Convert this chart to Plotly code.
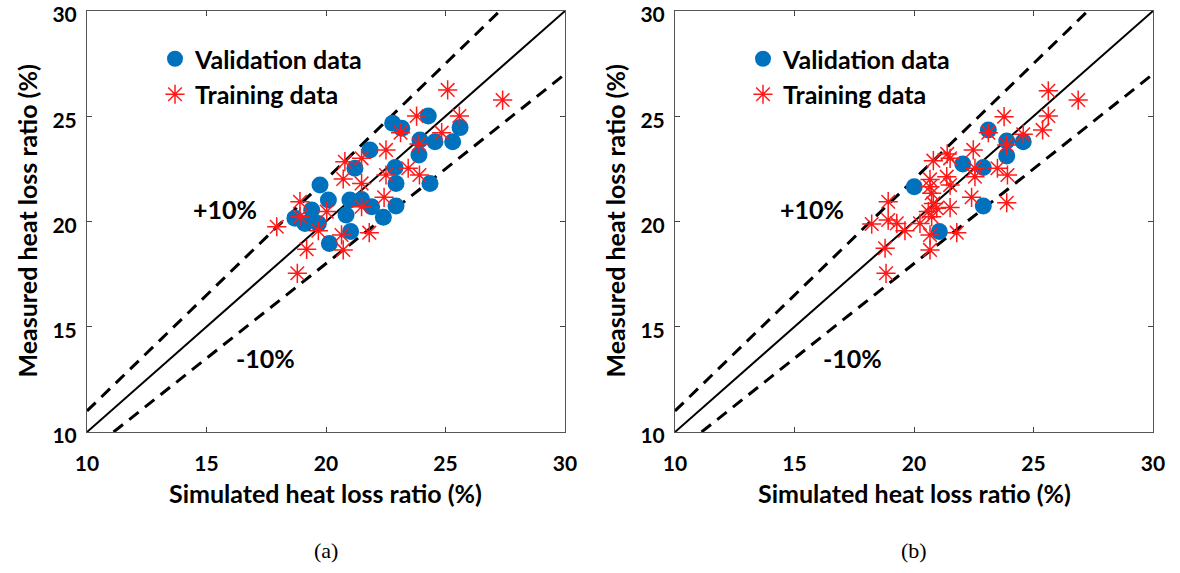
import plotly.graph_objects as go

# Panel (a): simulated vs measured heat loss ratio (%)
a_val_sim = [24.28, 22.79, 23.17, 25.61, 24.56, 25.30, 23.93, 23.89, 21.84, 21.21,
             22.89, 22.93, 24.35, 19.75, 20.10, 21.00, 21.49, 21.91, 22.93, 22.40,
             20.84, 19.40, 18.70, 19.12, 19.68, 21.03, 20.14]
a_val_meas = [25.01, 24.67, 24.43, 24.46, 23.79, 23.79, 23.87, 23.16, 23.40, 22.53,
              22.57, 21.81, 21.81, 21.73, 21.02, 21.02, 21.05, 20.70, 20.74, 20.20,
              20.31, 20.55, 20.15, 19.91, 19.91, 19.52, 18.96]
a_trn_sim = [25.09, 27.39, 23.79, 25.58, 23.12, 24.84, 23.89, 22.51, 20.79, 21.49,
             23.44, 23.91, 22.51, 20.72, 21.49, 18.91, 22.43, 21.49, 20.03, 18.91,
             17.94, 19.68, 20.65, 21.81, 19.19, 20.72, 18.80]
a_trn_meas = [26.25, 25.77, 25.01, 25.01, 24.22, 24.22, 23.68, 23.40, 22.84, 23.00,
              22.53, 22.21, 22.21, 22.02, 21.81, 20.94, 21.15, 20.70, 20.47, 20.23,
              19.75, 19.56, 19.36, 19.47, 18.68, 18.65, 17.54]

# Panel (b)
b_val_sim = [23.11, 23.88, 24.57, 23.88, 22.04, 22.90, 20.01, 22.90, 21.06]
b_val_meas = [24.35, 23.82, 23.79, 23.11, 22.73, 22.56, 21.65, 20.74, 19.52]
b_trn_sim = [25.62, 26.87, 23.77, 25.62, 25.38, 23.11, 24.57, 23.88, 22.48, 21.39,
             21.51, 20.81, 22.55, 22.55, 23.49, 23.91, 21.37, 21.51, 20.67, 20.67,
             20.74, 22.41, 18.92, 20.81, 20.95, 21.51, 20.60, 20.74, 20.25, 23.88,
             18.23, 18.92, 19.28, 19.62, 20.67, 21.79, 18.79, 20.67, 18.83]
b_trn_meas = [26.21, 25.77, 24.98, 25.01, 24.35, 24.22, 24.14, 23.63, 23.40, 23.21,
              23.00, 22.89, 22.53, 22.13, 22.53, 22.21, 22.13, 21.73, 22.00, 21.65,
              21.34, 21.15, 20.94, 20.86, 20.63, 20.66, 20.47, 20.23, 19.91, 20.89,
              19.88, 20.07, 19.91, 19.56, 19.36, 19.47, 18.73, 18.65, 17.54]

AX_MIN, AX_MAX = 10, 30
TICKS = [10, 15, 20, 25, 30]
BAND = 0.10

FONT = "Lato"
BLUE = "#0072BD"
RED = "#FF1A1A"

fig = go.Figure()

panels = [
    ("x", "y", "legend", a_val_sim, a_val_meas, a_trn_sim, a_trn_meas),
    ("x2", "y2", "legend2", b_val_sim, b_val_meas, b_trn_sim, b_trn_meas),
]

for xa, ya, leg, vs, vm, ts, tm in panels:
    # 1:1 line and +/-10% bands
    fig.add_trace(go.Scatter(x=[AX_MIN, AX_MAX], y=[AX_MIN, AX_MAX], mode="lines",
                             line=dict(color="black", width=2), showlegend=False,
                             xaxis=xa, yaxis=ya, hoverinfo="skip"))
    hi = 1 + BAND
    lo = 1 - BAND
    fig.add_trace(go.Scatter(x=[AX_MIN, AX_MAX / hi], y=[AX_MIN * hi, AX_MAX], mode="lines",
                             line=dict(color="black", width=3, dash="12px,8px"),
                             showlegend=False, xaxis=xa, yaxis=ya, hoverinfo="skip"))
    fig.add_trace(go.Scatter(x=[AX_MIN / lo, AX_MAX], y=[AX_MIN, AX_MAX * lo], mode="lines",
                             line=dict(color="black", width=3, dash="12px,8px"),
                             showlegend=False, xaxis=xa, yaxis=ya, hoverinfo="skip"))
    fig.add_trace(go.Scatter(x=vs, y=vm, mode="markers", name="Validation data",
                             marker=dict(symbol="circle", size=17, color=BLUE),
                             xaxis=xa, yaxis=ya, legend=leg))
    fig.add_trace(go.Scatter(x=ts, y=tm, mode="markers", name="Training data",
                             marker=dict(symbol="asterisk-open", size=16, color=RED,
                                         line=dict(color=RED, width=1.5)),
                             xaxis=xa, yaxis=ya, legend=leg))

W, H = 1180, 573
x_doms = [(87 / W, 565 / W), (675 / W, 1153 / W)]
y_dom = (1 - 432 / H, 1 - 11 / H)

axis_common = dict(range=[AX_MIN, AX_MAX], tickvals=TICKS, ticks="inside", ticklen=5,
                   tickcolor="#444", showline=True, linecolor="#555", linewidth=1,
                   mirror="ticks", showgrid=False, zeroline=False, automargin=False,
                   ticklabeloverflow="allow",
                   tickfont=dict(family=FONT, size=21, color="black", weight="bold"))

legend_common = dict(font=dict(family=FONT, size=25, color="black", weight="bold"),
                     bgcolor="rgba(0,0,0,0)", yanchor="top", xanchor="left",
                     itemsizing="trace", tracegroupgap=0)

fig.update_layout(
    width=W, height=H, margin=dict(l=0, r=0, t=0, b=0, autoexpand=False),
    paper_bgcolor="white", plot_bgcolor="white",
    xaxis=dict(domain=x_doms[0], anchor="y", ticklabelstandoff=13, **axis_common),
    yaxis=dict(domain=y_dom, anchor="x", ticklabelstandoff=5, ticklabelshift=4, **axis_common),
    xaxis2=dict(domain=x_doms[1], anchor="y2", ticklabelstandoff=13, **axis_common),
    yaxis2=dict(domain=y_dom, anchor="x2", ticklabelstandoff=5, ticklabelshift=4, **axis_common),
    legend=dict(x=155 / W, y=1 - 36 / H, **legend_common),
    legend2=dict(x=743 / W, y=1 - 36 / H, **legend_common),
)

title_font = dict(family=FONT, size=25, color="black", weight="bold")
anns = []
for (x0, x1), lab, plus_x, minus_x in [(x_doms[0], "(a)", 225, 265), (x_doms[1], "(b)", 812, 852)]:
    cx = (x0 + x1) / 2
    anns.append(dict(x=cx, y=1 - 493 / H, text="Simulated heat loss ratio (%)",
                     font=title_font))
    anns.append(dict(x=(x0 * W - 60) / W, y=(y_dom[0] + y_dom[1]) / 2,
                     text="Measured heat loss ratio (%)", textangle=-90, font=title_font))
    anns.append(dict(x=cx, y=1 - 550 / H, text=lab,
                     font=dict(family="Liberation Serif", size=22, color="black")))
    anns.append(dict(x=plus_x / W, y=1 - 209 / H, text="+10%", font=title_font))
    anns.append(dict(x=minus_x / W, y=1 - 358 / H, text="-10%", font=title_font))

for a in anns:
    a.update(xref="paper", yref="paper", showarrow=False, xanchor="center", yanchor="middle")
fig.update_layout(annotations=anns)

fig.write_html("out.html")
